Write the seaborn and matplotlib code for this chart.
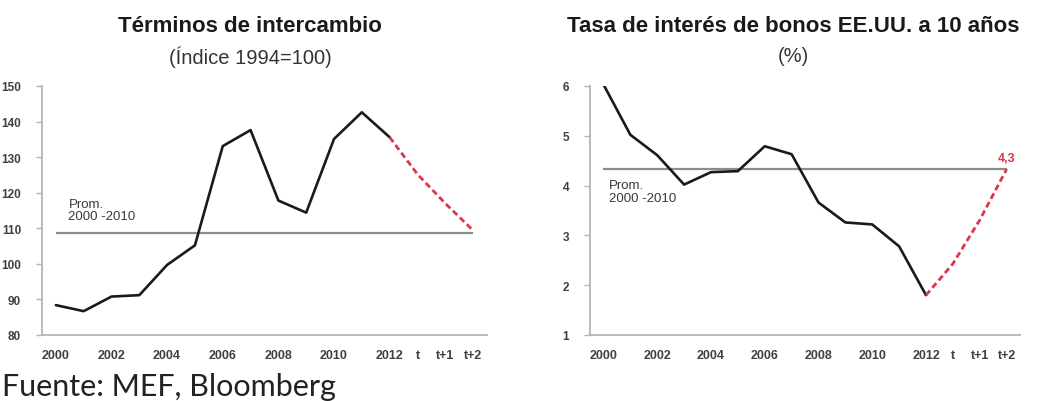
import numpy as np
import pandas as pd
import matplotlib.pyplot as plt
import seaborn as sns

sns.set_style("white")
plt.rcParams['font.family'] = ['Liberation Sans', 'DejaVu Sans']

# categories on the x axis
periodos = ['2000', '2001', '2002', '2003', '2004', '2005', '2006', '2007',
            '2008', '2009', '2010', '2011', '2012', 't', 't+1', 't+2']
etiquetas = ['2000', '', '2002', '', '2004', '', '2006', '', '2008', '',
             '2010', '', '2012', 't', 't+1', 't+2']

# Terminos de intercambio (indice 1994=100)
ti_hist = [88.4, 86.7, 90.8, 91.2, 99.7, 105.2, 133.1, 137.6, 117.8, 114.4,
           135.1, 142.6, 135.6]
ti_proy = [135.6, 125.2, 117.0, 109.4]
ti_prom = 108.8

# Tasa bonos EE.UU. 10 anios (%)
tasa_hist = [6.03, 5.02, 4.61, 4.02, 4.27, 4.29, 4.79, 4.63, 3.66, 3.26,
             3.22, 2.78, 1.80]
tasa_proy = [1.80, 2.43, 3.31, 4.33]
tasa_prom = 4.33

pos = np.arange(len(periodos))
rojo = '#e0344a'
gris = '#8c8c8c'

fig = plt.figure(figsize=(10.41, 4.02), dpi=100)
ax1 = fig.add_axes([0.0403, 0.1642, 0.4275, 0.6194])
ax2 = fig.add_axes([0.5668, 0.1642, 0.4131, 0.6194])


def panel(ax, hist, proy, prom, ylim, yticks, prom_xy):
    n = len(hist)
    df_h = pd.DataFrame({'x': pos[:n], 'y': hist})
    df_p = pd.DataFrame({'x': pos[n - 1:], 'y': proy})
    ax.hlines(prom, pos[0], pos[-1], color=gris, lw=1.6, zorder=1)
    sns.lineplot(data=df_h, x='x', y='y', ax=ax, color='#1a1a1a', lw=1.9,
                 zorder=3)
    sns.lineplot(data=df_p, x='x', y='y', ax=ax, color=rojo, lw=2.0,
                 dashes=False, zorder=3)
    ax.lines[-1].set_linestyle((0, (2.2, 1.3)))
    ax.text(prom_xy[0], prom_xy[1], 'Prom.\n2000 -2010', fontsize=9.5,
            color='#3a3a3a', va='center', ha='left', linespacing=1.05)

    ax.set_xlim(-0.5, len(periodos) - 0.5)
    ax.set_ylim(*ylim)
    ax.set_yticks(yticks)
    ax.set_yticklabels([str(v) for v in yticks])
    ax.set_xticks(pos)
    ax.set_xticklabels(etiquetas)
    ax.set_xticks(np.arange(-0.5, len(periodos), 1), minor=True)
    ax.set_xlabel('')
    ax.set_ylabel('')
    ax.tick_params(axis='x', which='major', length=0, pad=10, labelsize=9,
                   labelcolor='#404040')
    ax.tick_params(axis='x', which='minor', length=4, width=1, color='#b5b5b5',
                   direction='out')
    ax.tick_params(axis='y', length=4, width=1, color='#b5b5b5', pad=11,
                   labelsize=8.5, labelcolor='#404040', left=True)
    for lab in ax.get_xticklabels() + ax.get_yticklabels():
        lab.set_fontweight('bold')
    for s in ['top', 'right']:
        ax.spines[s].set_visible(False)
    for s in ['left', 'bottom']:
        ax.spines[s].set_color('#b5b5b5')
        ax.spines[s].set_linewidth(1.3)


panel(ax1, ti_hist, ti_proy, ti_prom, (80, 150),
      [80, 90, 100, 110, 120, 130, 140, 150], (0.45, 115.2))
panel(ax2, tasa_hist, tasa_proy, tasa_prom, (1, 6),
      [1, 2, 3, 4, 5, 6], (0.2, 3.88))
ax2.text(pos[-1], 4.43, '4,3', color=rojo, fontsize=9, fontweight='bold',
         ha='center', va='bottom')

# titulos
fig.text(250 / 1041, 1 - 27 / 402, 'Términos de intercambio', ha='center',
         va='center', fontsize=16, fontweight='bold', color='#1a1a1a')
fig.text(250 / 1041, 1 - 57 / 402, '(Índice 1994=100)', ha='center',
         va='center', fontsize=14.5, color='#333333')
fig.text(793 / 1041, 1 - 27 / 402, 'Tasa de interés de bonos EE.UU. a 10 años',
         ha='center', va='center', fontsize=16, fontweight='bold',
         color='#1a1a1a')
fig.text(793 / 1041, 1 - 57 / 402, '(%)', ha='center', va='center',
         fontsize=14.5, color='#333333')

fig.text(0.002, 0.003, 'Fuente: MEF, Bloomberg', ha='left', va='bottom',
         fontsize=22, color='#222222', family=['Lato', 'DejaVu Sans'])

fig.savefig('out.png', dpi=100)
